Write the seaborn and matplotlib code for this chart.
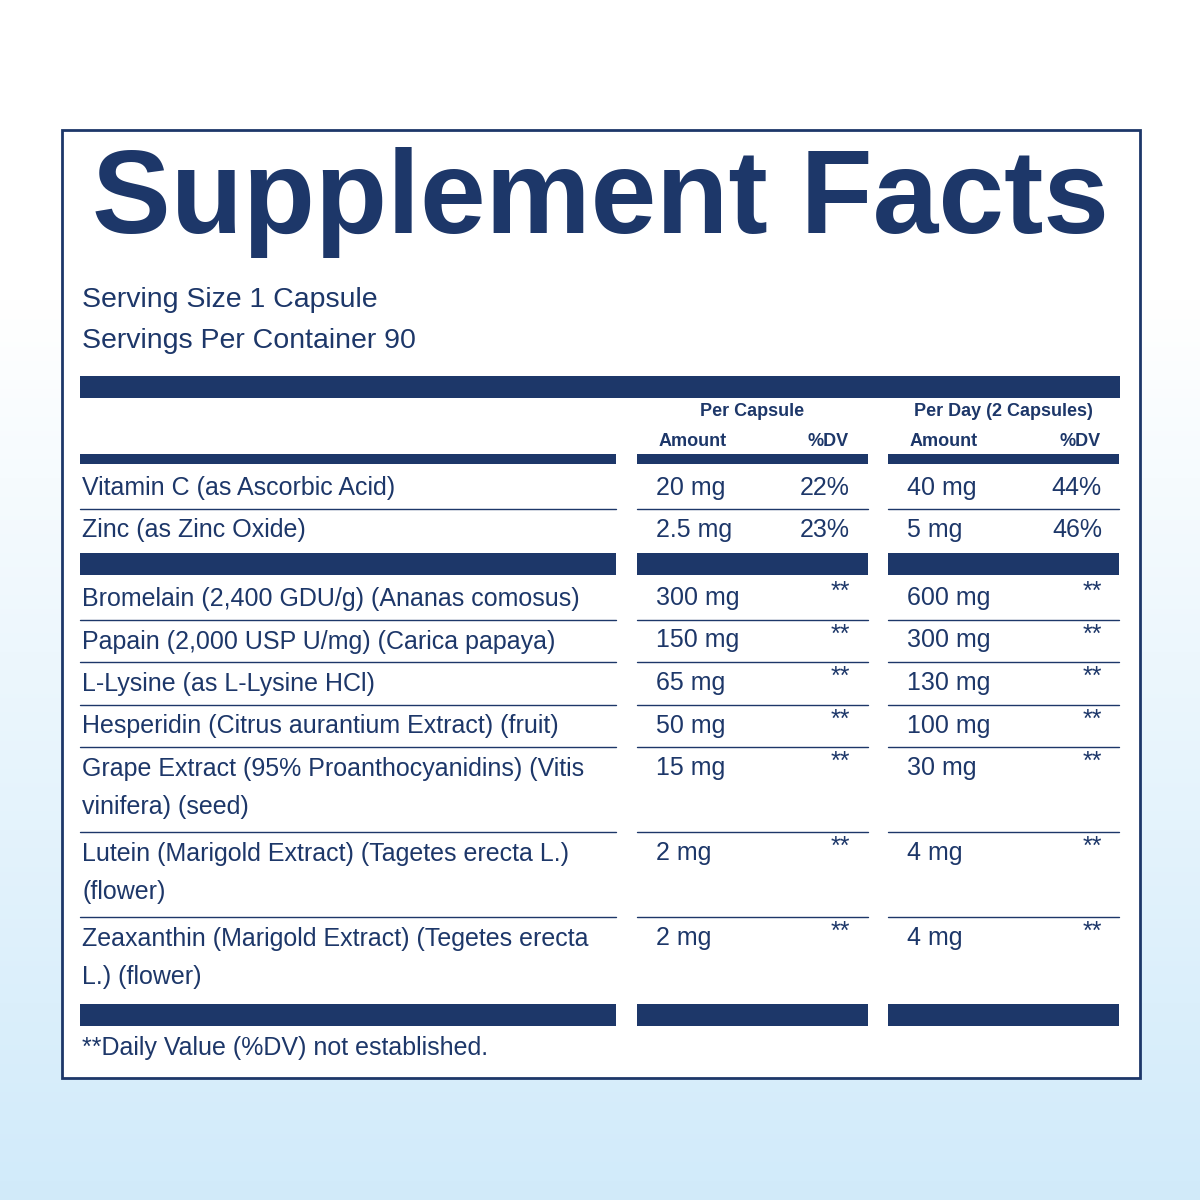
import numpy as np
import seaborn as sns
import matplotlib.pyplot as plt

sns.set_theme(style="white")
plt.rcParams['font.family'] = ['Liberation Sans Narrow', 'Liberation Sans', 'DejaVu Sans']

navy = "#1d3769"

# label data
title = "Supplement Facts"
serving = ["Serving Size 1 Capsule", "Servings Per Container 90"]
vit_names = ["Vitamin C (as Ascorbic Acid)", "Zinc (as Zinc Oxide)"]
vit_cap_amt = ["20 mg", "2.5 mg"]
vit_cap_dv = ["22%", "23%"]
vit_day_amt = ["40 mg", "5 mg"]
vit_day_dv = ["44%", "46%"]
other_names = ["Bromelain (2,400 GDU/g) (Ananas comosus)",
               "Papain (2,000 USP U/mg) (Carica papaya)",
               "L-Lysine (as L-Lysine HCl)",
               "Hesperidin (Citrus aurantium Extract) (fruit)",
               "Grape Extract (95% Proanthocyanidins) (Vitis\nvinifera) (seed)",
               "Lutein (Marigold Extract) (Tagetes erecta L.)\n(flower)",
               "Zeaxanthin (Marigold Extract) (Tegetes erecta\nL.) (flower)"]
other_cap_amt = ["300 mg", "150 mg", "65 mg", "50 mg", "15 mg", "2 mg", "2 mg"]
other_day_amt = ["600 mg", "300 mg", "130 mg", "100 mg", "30 mg", "4 mg", "4 mg"]
footnote = "**Daily Value (%DV) not established."

fig = plt.figure(figsize=(12, 12), dpi=100)
bg = fig.add_axes([0, 0, 1, 1], zorder=0)
grad = np.linspace(0, 1, 256)[:, None]
grad = np.clip((grad - 0.25) / 0.75, 0, 1)
white = np.array([1, 1, 1]); blue = np.array([0.82, 0.92, 0.98])
img = white[None, None, :] * (1 - grad[..., None]) + blue[None, None, :] * grad[..., None]
bg.imshow(img, aspect='auto', extent=[0, 1200, 1200, 0])
bg.axis('off')

ax = fig.add_axes([0, 0, 1, 1], zorder=1)
ax.set_xlim(0, 1200); ax.set_ylim(1200, 0); ax.axis('off')
ax.patch.set_alpha(0)

ax.add_patch(plt.Rectangle((62, 130), 1078, 948, facecolor='white', edgecolor=navy, lw=2))

ax.text(600, 203, title, ha='center', va='center', fontsize=85, fontweight='bold',
        color=navy, family=['Liberation Sans', 'DejaVu Sans'])
for i, s in enumerate(serving):
    ax.text(82, 300 + 41 * i, s, va='center', fontsize=20.5, color=navy)

segs = [(80, 616), (637, 868), (888, 1119)]

def bar(y, h, full=False):
    if full:
        ax.add_patch(plt.Rectangle((80, y), 1040, h, color=navy, lw=0))
    else:
        for a, b in segs:
            ax.add_patch(plt.Rectangle((a, y), b - a, h, color=navy, lw=0))

def hline(y):
    for a, b in segs:
        ax.plot([a, b], [y, y], color=navy, lw=1)

bar(376, 22, full=True)
hfont = dict(fontsize=13, fontweight='bold', color=navy, va='center')
ax.text(752, 411, "Per Capsule", ha='center', **hfont)
ax.text(1003, 411, "Per Day (2 Capsules)", ha='center', **hfont)
ax.text(693, 441, "Amount", ha='center', **hfont)
ax.text(849, 441, "%DV", ha='right', **hfont)
ax.text(944, 441, "Amount", ha='center', **hfont)
ax.text(1101, 441, "%DV", ha='right', **hfont)
bar(454, 10)

rfont = dict(fontsize=18, color=navy, va='center')
y = 488
for i in range(len(vit_names)):
    ax.text(82, y, vit_names[i], **rfont)
    ax.text(656, y, vit_cap_amt[i], **rfont)
    ax.text(850, y, vit_cap_dv[i], ha='right', **rfont)
    ax.text(907, y, vit_day_amt[i], **rfont)
    ax.text(1102, y, vit_day_dv[i], ha='right', **rfont)
    if i == 0:
        hline(y + 21)
    y += 42
bar(553, 22)

y = 598
for i in range(len(other_names)):
    nlines = other_names[i].count("\n") + 1
    ax.text(82, y - 11, other_names[i], va='top', fontsize=18, color=navy, linespacing=1.75)
    ax.text(656, y, other_cap_amt[i], **rfont)
    ax.text(850, y - 6, "**", ha='right', **rfont)
    ax.text(907, y, other_day_amt[i], **rfont)
    ax.text(1102, y - 6, "**", ha='right', **rfont)
    step = 42.5 * nlines
    if i < len(other_names) - 1:
        hline(y + step - 21)
    y += step
bar(1004, 22)
ax.text(82, 1048, footnote, **rfont)

fig.savefig("out.png", dpi=100)
